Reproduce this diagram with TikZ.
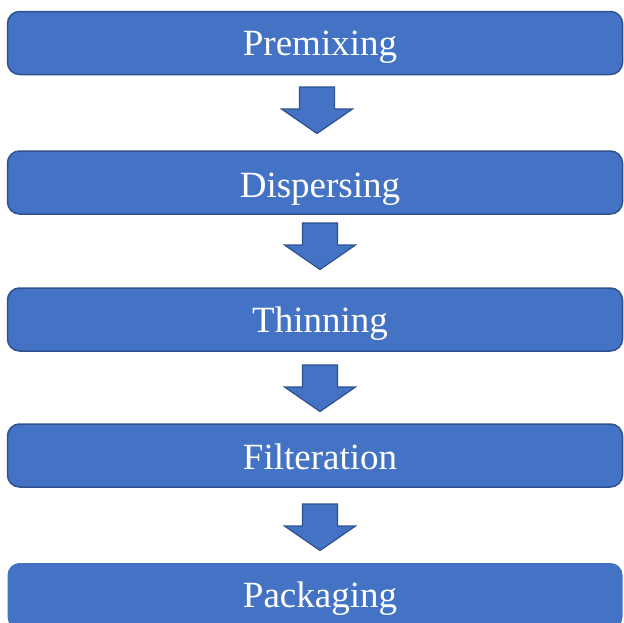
\documentclass[tikz,border=0pt]{standalone}
\usepackage{fontspec}
\setmainfont{Liberation Serif}
\definecolor{bfill}{HTML}{4472C4}
\definecolor{bdraw}{HTML}{2F528F}
\begin{document}
\begin{tikzpicture}[x=1pt,y=-1pt,
  stage/.style={draw=bdraw,line width=1.5pt,fill=bfill,rounded corners=12pt,
    minimum width=615pt,minimum height=63pt,inner sep=0pt,outer sep=0pt},
  lastage/.style={fill=bfill,rounded corners=12pt,
    minimum width=615pt,minimum height=66pt,inner sep=0pt,outer sep=0pt},
  lbl/.style={text=white,font=\fontsize{37}{41}\selectfont,anchor=base,inner sep=0pt},
  blockarrow/.style={draw=bdraw,line width=1.2pt,fill=bfill,line join=miter}]
\useasboundingbox (0,0) rectangle (624,622);
\node[stage] (b1) at (315,43) {};
\node[stage] (b2) at (315,182.5) {};
\node[stage] (b3) at (315,319.5) {};
\node[stage] (b4) at (315,455.5) {};
\node[lastage] (b5) at (315,596) {};
\node[lbl] (t1) at (320,55) {Premixing};
\node[lbl] (t2) at (320,197) {Dispersing};
\node[lbl] (t3) at (320,332) {Thinning};
\node[lbl] (t4) at (320,469) {Filteration};
\node[lbl] (t5) at (320,607) {Packaging};
\foreach \cx/\top in {317/87, 320/223, 320/365, 320/504}{
  \path[blockarrow,shift={(\cx,\top)}]
    (-17.5,0) -- (17.5,0) -- (17.5,22) -- (35.5,22) -- (0,46.5)
    -- (-35.5,22) -- (-17.5,22) -- cycle;
}
\end{tikzpicture}
\end{document}
